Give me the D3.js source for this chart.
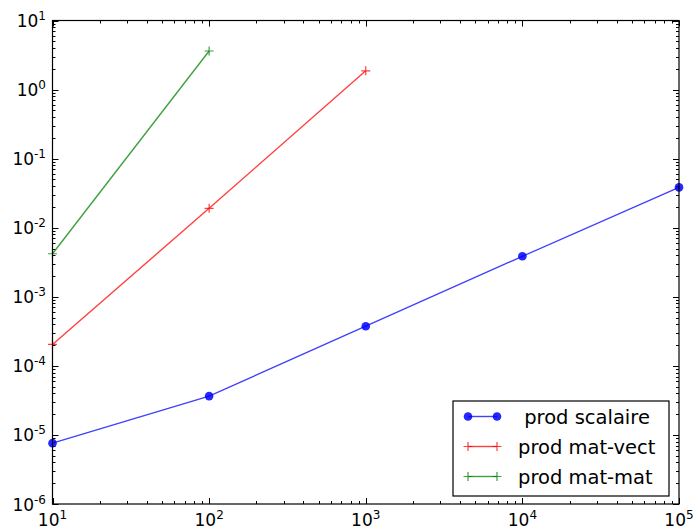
<!DOCTYPE html>
<html><head><meta charset="utf-8">
<script src="https://cdn.jsdelivr.net/npm/d3@7"></script>
<style>body{margin:0;background:#fff}svg{display:block}text{font-family:"DejaVu Sans",sans-serif}</style>
</head><body><svg id="c" width="693" height="529"></svg>
<script>
const xTicks = [1e1, 1e2, 1e3, 1e4, 1e5];
const yTicks = [1e-6, 1e-5, 1e-4, 1e-3, 1e-2, 1e-1, 1e0, 1e1];
const xScalaire = [1e1, 1e2, 1e3, 1e4, 1e5];
const yScalaire = [7.6e-6, 3.65e-5, 3.75e-4, 3.86e-3, 3.84e-2];
const xMatVect = [1e1, 1e2, 1e3];
const yMatVect = [2.04e-4, 1.91e-2, 1.87];
const xMatMat = [1e1, 1e2];
const yMatMat = [4.2e-3, 3.62];
const seriesNames = [" prod scalaire", "prod mat-vect", "prod mat-mat"];

const svg = d3.select("#c");
const L = 52.5, R = 679, T = 20.5, B = 504;
const x = d3.scaleLog().domain([1e1, 1e5]).range([L, R]);
const y = d3.scaleLog().domain([1e-6, 1e1]).range([B, T]);

// minor ticks
const minorX = [], minorY = [];
for (let e = 1; e < 5; e++) for (let k = 2; k < 10; k++) minorX.push(k * Math.pow(10, e));
for (let e = -6; e < 1; e++) for (let k = 2; k < 10; k++) minorY.push(k * Math.pow(10, e));

const g = svg.append("g");
function ticks(vals, len, isX) {
  vals.forEach(v => {
    if (isX) {
      const px = Math.round(x(v)) + 0.5;
      g.append("line").attr("x1", px).attr("x2", px).attr("y1", B).attr("y2", B - len).attr("stroke", "#000");
      g.append("line").attr("x1", px).attr("x2", px).attr("y1", T).attr("y2", T + len).attr("stroke", "#000");
    } else {
      const py = Math.round(y(v)) + 0.5;
      g.append("line").attr("y1", py).attr("y2", py).attr("x1", L).attr("x2", L + len).attr("stroke", "#000");
      g.append("line").attr("y1", py).attr("y2", py).attr("x1", R).attr("x2", R - len).attr("stroke", "#000");
    }
  });
}
ticks(xTicks, 6, true); ticks(minorX, 3, true);
ticks(yTicks, 6, false); ticks(minorY, 3, false);

// lines
const line = d3.line().x(d => x(d[0])).y(d => y(d[1]));
const sets = [
  {xs: xScalaire, ys: yScalaire, color: "#0000ff", marker: "o"},
  {xs: xMatVect, ys: yMatVect, color: "#ff0000", marker: "+"},
  {xs: xMatMat, ys: yMatMat, color: "#008000", marker: "+"}
];
const plot = svg.append("g");
sets.forEach(s => {
  const pts = s.xs.map((v, i) => [v, s.ys[i]]);
  plot.append("path").attr("d", line(pts)).attr("fill", "none").attr("stroke", s.color).attr("stroke-opacity", 0.75).attr("stroke-width", 1.4);
  pts.forEach(p => {
    const px = x(p[0]), py = y(p[1]);
    if (s.marker === "o") {
      plot.append("circle").attr("cx", px).attr("cy", py).attr("r", 4.3).attr("fill", s.color).attr("fill-opacity", 0.85);
    } else {
      plot.append("path").attr("d", `M${px-4.5},${py}H${px+4.5}M${px},${py-4.5}V${py+4.5}`).attr("stroke", s.color).attr("stroke-opacity", 0.75).attr("stroke-width", 1.2);
    }
  });
});

// frame
svg.append("rect").attr("x", L).attr("y", T).attr("width", R - L).attr("height", B - T).attr("fill", "none").attr("stroke", "#000").attr("stroke-width", 1.2);

// tick labels
const expo = v => Math.round(Math.log10(v));
xTicks.forEach(v => {
  const t = svg.append("text").attr("x", x(v)).attr("y", 526).attr("text-anchor", "middle").attr("font-size", 17).attr("fill", "#000");
  t.append("tspan").text("10");
  t.append("tspan").attr("dy", -7).attr("font-size", 12).text(String(expo(v)));
});
yTicks.forEach(v => {
  const t = svg.append("text").attr("x", 46).attr("y", y(v) + 6.5).attr("text-anchor", "end").attr("font-size", 17).attr("fill", "#000");
  t.append("tspan").text("10");
  t.append("tspan").attr("dy", -7).attr("font-size", 12).text(String(expo(v)));
});

// legend
const lg = svg.append("g");
lg.append("rect").attr("x", 453).attr("y", 401).attr("width", 216).attr("height", 95).attr("fill", "#fff").attr("stroke", "#000").attr("stroke-width", 1.2);
const rowsY = [416.5, 446.5, 476.5];
sets.forEach((s, i) => {
  const yy = rowsY[i];
  lg.append("line").attr("x1", 468).attr("x2", 497).attr("y1", yy).attr("y2", yy).attr("stroke", s.color).attr("stroke-opacity", 0.75).attr("stroke-width", 1.4);
  [468, 497].forEach(px => {
    if (s.marker === "o") lg.append("circle").attr("cx", px).attr("cy", yy).attr("r", 4.3).attr("fill", s.color).attr("fill-opacity", 0.85);
    else lg.append("path").attr("d", `M${px-4.5},${yy}H${px+4.5}M${px},${yy-4.5}V${yy+4.5}`).attr("stroke", s.color).attr("stroke-opacity", 0.75).attr("stroke-width", 1.2);
  });
  lg.append("text").attr("x", 518).attr("y", yy + 7).attr("font-size", 19.5).attr("fill", "#000").attr("xml:space", "preserve").style("white-space", "pre").text(seriesNames[i]);
});
</script></body></html>
